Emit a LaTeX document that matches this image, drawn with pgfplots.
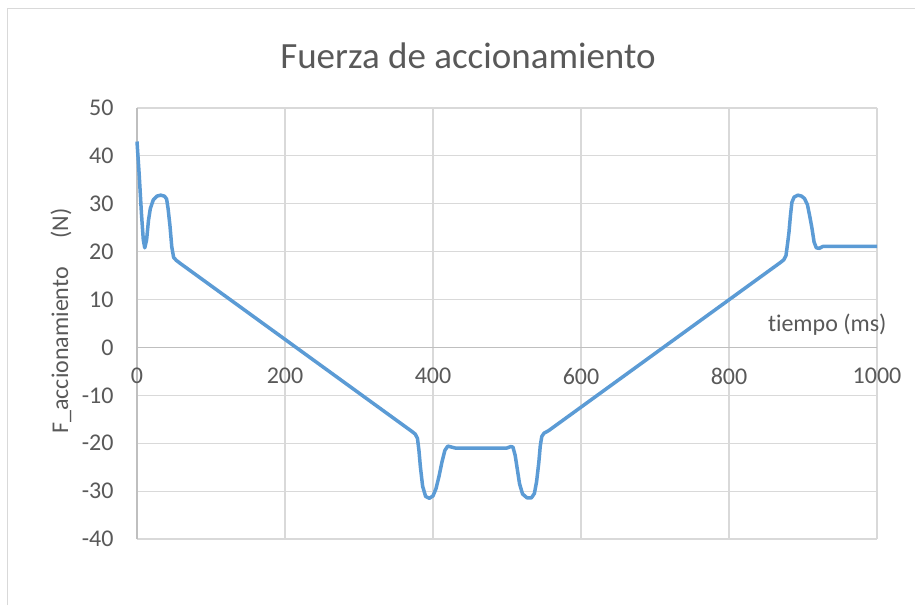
\documentclass[border=0pt]{standalone}
\usepackage{pgfplots}
\pgfplotsset{compat=1.18}
\usepackage{fontspec}
\setmainfont[Ligatures=NoCommon]{Carlito}
\definecolor{txt}{HTML}{595959}
\definecolor{gridc}{HTML}{D9D9D9}
\definecolor{axc}{HTML}{BFBFBF}
\definecolor{serie}{HTML}{5B9BD5}

\begin{document}
\begin{tikzpicture}
\path[use as bounding box, fill=white] (-137pt,-66pt) rectangle (778pt,539pt);
\draw[gridc, line width=1pt] (-129pt,-66pt) -- (-129pt,530pt) -- (778pt,530pt);
\begin{axis}[
  at={(0pt,0pt)}, anchor=south west,
  scale only axis, width=740pt, height=431pt,
  xmin=0, xmax=1000, ymin=-40, ymax=50,
  axis lines=middle, axis line style={-, axc, line width=1.2pt},
  hide obscured x ticks=false, hide obscured y ticks=false,
  xtick={0,200,400,600,800,1000},
  ytick={-40,-30,-20,-10,0,10,20,30,40,50},
  major tick length=0pt,
  grid=major, grid style={gridc, line width=1.2pt},
  tick label style={font=\fontsize{24}{28}\selectfont, text=txt},
  xticklabel style={anchor=north, yshift=-17pt},
  yticklabel style={anchor=east, xshift=-20pt},
  /pgf/number format/assume math mode=true,
  /pgf/number format/1000 sep={},
  clip=false,
]
\addplot[serie, line width=3.5pt, line join=round] coordinates {
(0,43.0) (3,36) (6,28) (8.5,22.5) (10.5,20.8) (13,22.5) (15.5,26.5)
(18,29) (22,30.8) (27,31.6) (32,31.8) (37,31.6) (40,31) (42,29)
(44.5,25.5) (47,21) (49.5,18.8) (53,18.2) (58,17.6)
(372,-17.6) (376,-18.1) (379,-19) (381,-21.5) (383,-25) (386,-29)
(390,-31.1) (395,-31.5) (400,-31) (404,-29.5) (408,-27) (412,-24)
(416,-21.5) (420,-20.6) (425,-20.8) (430,-21) (500,-21) (505,-20.7)
(508,-20.8) (511,-22.5) (514,-25.5) (517,-28.5) (521,-30.6) (527,-31.4)
(533,-31.4) (537,-30.5) (540,-28) (543,-24) (545,-20.5) (547,-18.6)
(550,-17.9) (556,-17.4)
(870,17.8) (874,18.3) (877,19.2) (879,21.5) (881,24) (883,27.5)
(885,30.3) (888,31.4) (893,31.8) (898,31.6) (902,31.1) (906,29.8)
(909,27.5) (912,25) (915,22) (918,20.8) (922,20.7) (927,21.1) (1000,21.1)
};
\end{axis}
\node[anchor=base, text=txt, font=\fontsize{37}{44}\selectfont] at (331pt,470pt) {Fuerza de accionamiento};
\node[anchor=base east, text=txt, font=\fontsize{24}{28}\selectfont] at (753pt,207pt) {tiempo (ms)};
\node[rotate=90, text=txt, font=\fontsize{24}{28}\selectfont] at (-76pt,218pt) {F\_accionamiento\hspace{1.2em}(N)};
\end{tikzpicture}
\end{document}
